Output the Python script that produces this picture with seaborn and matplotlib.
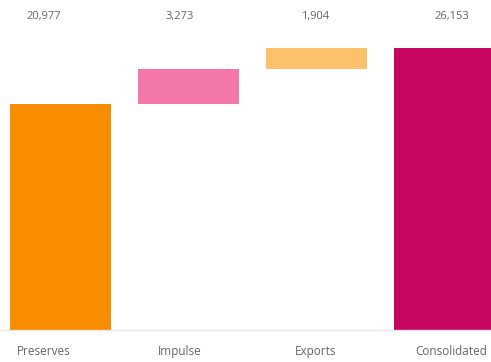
import matplotlib
matplotlib.use("Agg")
import matplotlib.pyplot as plt
import seaborn as sns
import numpy as np
import pandas as pd

categories = ["Preserves", "Impulse", "Exports", "Consolidated"]
values = [20977, 3273, 1904, 26153]
value_labels = ["20,977", "3,273", "1,904", "26,153"]
colors = ["#F88D00", "#F477AB", "#FDC16C", "#C70662"]

# waterfall bases: first and total start at zero, steps stack on running sum
bottoms = [0]
running = values[0]
for v in values[1:-1]:
    bottoms.append(running)
    running += v
bottoms.append(0)

df = pd.DataFrame({"category": categories, "value": values})

sns.set_theme(style="white")
plt.rcParams["font.family"] = ["Open Sans", "DejaVu Sans"]

W, H = 491, 362
fig = plt.figure(figsize=(W / 100, H / 100), dpi=100)
ax = fig.add_axes([0, 32 / H, 1, 1 - 32 / H])

bar_w = 0.79
sns.barplot(data=df, x="category", y="value", order=categories, ax=ax,
            width=bar_w, bottom=bottoms, errorbar=None, color=colors[0],
            linewidth=0)
for p, c in zip(ax.patches, colors):
    p.set_facecolor(c)
    p.set_edgecolor("none")

px = 128.0  # pixels per category step
left = -bar_w / 2 - 10 / px
ax.set_xlim(left, left + W / px)
total = values[-1]
ax.set_ylim(0, total * 330 / 282)

for s in ["top", "right", "left"]:
    ax.spines[s].set_visible(False)
ax.spines["bottom"].set_color("#e6e6e6")
ax.spines["bottom"].set_linewidth(1)

label_off = -17 / px
label_step = 136 / px
pos = [label_off + i * label_step for i in range(len(categories))]
ax.set_xticks(pos)
ax.set_xticklabels(categories, fontsize=8.5, color="#666666")
ax.tick_params(axis="x", length=0, pad=11)
ax.set_yticks([])
ax.set_xlabel("")
ax.set_ylabel("")

for x, t in zip(pos, value_labels):
    ax.text(x, 1 - 17 / (H - 32), t, transform=ax.get_xaxis_transform(),
            ha="center", va="center", fontsize=8, color="#666666")

fig.savefig("out.png", dpi=100)
